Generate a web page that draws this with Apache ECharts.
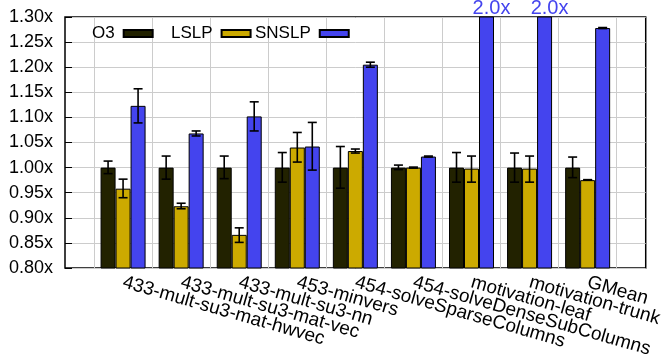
<!DOCTYPE html>
<html>
<head>
<meta charset="utf-8">
<script src="https://cdn.jsdelivr.net/npm/echarts@6/dist/echarts.min.js"></script>
<style>html,body{margin:0;padding:0;background:#fff;}#c{width:665px;height:362px;}</style>
</head>
<body>
<div id="c"></div>
<script>
var categories = ['433-mult-su3-mat-hwvec','433-mult-su3-mat-vec','433-mult-su3-nn','453-minvers','454-solveSparseColumns','454-solveDenseSubColumns','motivation-leaf','motivation-trunk','GMean'];
var seriesNames = ['O3','LSLP','SNSLP'];
var o3 =      [1.000, 1.000, 1.000, 1.000, 1.000, 1.000, 1.000, 1.000, 1.000];
var o3Lo =    [0.988, 0.977, 0.978, 0.971, 0.959, 0.996, 0.971, 0.971, 0.980];
var o3Hi =    [1.013, 1.023, 1.023, 1.030, 1.042, 1.005, 1.030, 1.029, 1.021];
var lslp =    [0.958, 0.923, 0.866, 1.040, 1.033, 1.000, 0.998, 0.998, 0.975];
var lslpLo =  [0.940, 0.918, 0.851, 1.011, 1.029, 0.999, 0.971, 0.971, 0.975];
var lslpHi =  [0.977, 0.929, 0.880, 1.070, 1.037, 1.001, 1.023, 1.023, 0.976];
var snslp =   [1.123, 1.068, 1.102, 1.042, 1.205, 1.022, 2.0, 2.0, 1.278];
var snslpLo = [1.089, 1.063, 1.073, 0.995, 1.200, 1.021, null, null, 1.277];
var snslpHi = [1.157, 1.073, 1.131, 1.090, 1.210, 1.023, null, null, 1.279];
var yTicks = {min: 0.80, max: 1.30, step: 0.05};

var FONT = "'Liberation Sans', Arial, Helvetica, sans-serif";
var colors = ['#222200', '#ccaa00', '#4444ee'];
var BAR_W = 15;

// 21 half-slots: category k (1..9) sits at slot 2k; split lines at odd slots
var slots = [];
for (var i = 0; i <= 20; i++) slots.push(i % 2 === 0 && i > 0 && i < 20 ? categories[i / 2 - 1] : '');
function toSlots(arr) {
  var out = [];
  for (var i = 0; i <= 20; i++) out.push(i % 2 === 0 && i > 0 && i < 20 ? arr[i / 2 - 1] : null);
  return out;
}
function errData(lo, hi) {
  var d = [];
  for (var k = 0; k < lo.length; k++) if (lo[k] != null) d.push([2 * (k + 1), lo[k], hi[k]]);
  return d;
}
function errSeries(lo, hi, idx) {
  var off = (idx - 1) * BAR_W;
  return {
    type: 'custom', xAxisIndex: 0, yAxisIndex: 0, z: 5, silent: true,
    data: errData(lo, hi),
    renderItem: function (params, api) {
      var a = api.coord([api.value(0), api.value(1)]);
      var b = api.coord([api.value(0), api.value(2)]);
      var x = a[0] + off, cw = 4.5;
      var st = {stroke: '#000', lineWidth: 1.6};
      return {type: 'group', children: [
        {type: 'line', shape: {x1: x, y1: a[1], x2: x, y2: b[1]}, style: st},
        {type: 'line', shape: {x1: x - cw, y1: a[1], x2: x + cw, y2: a[1]}, style: st},
        {type: 'line', shape: {x1: x - cw, y1: b[1], x2: x + cw, y2: b[1]}, style: st}
      ]};
    }
  };
}
var overData = [];
for (var k = 0; k < snslp.length; k++) if (snslp[k] > yTicks.max) overData.push([2 * (k + 1), snslp[k]]);

var barData = [o3, lslp, snslp];
var series = [];
for (var s = 0; s < 3; s++) {
  series.push({
    name: seriesNames[s], type: 'bar', barWidth: BAR_W, barGap: '0%',
    data: toSlots(barData[s]),
    itemStyle: {color: colors[s], borderColor: '#000', borderWidth: 1},
    emphasis: {disabled: true}
  });
}
series.push(errSeries(o3Lo, o3Hi, 0));
series.push(errSeries(lslpLo, lslpHi, 1));
series.push(errSeries(snslpLo, snslpHi, 2));
series.push({
  type: 'custom', clip: false, z: 6, silent: true, data: overData,
  renderItem: function (params, api) {
    var p = api.coord([api.value(0), yTicks.max]);
    return {type: 'text', x: p[0] + BAR_W + 5, y: p[1] + 1,
      style: {text: api.value(1).toFixed(1) + 'x', fill: '#4444ee', font: '20px ' + FONT,
        align: 'center', verticalAlign: 'bottom'}};
  }
});

function legendAt(name, left) {
  return {
    data: [{name: name, icon: 'rect'}], left: left, top: 25, padding: 0, orient: 'horizontal', align: 'right',
    itemWidth: 29, itemHeight: 7, selectedMode: false,
    textStyle: {fontFamily: FONT, fontSize: 17, color: '#000', padding: [0, 4, 0, 0]}
  };
}

var chart = echarts.init(document.getElementById('c'), null, {renderer: 'canvas'});
chart.setOption({
  animation: false,
  backgroundColor: '#fff',
  grid: {left: 65, right: 15, top: 17, bottom: 94, show: true, borderColor: '#000', borderWidth: 1.5, backgroundColor: 'transparent'},
  legend: [legendAt('O3', 92), legendAt('LSLP', 171), legendAt('SNSLP', 255)],
  xAxis: {
    type: 'category', data: slots, boundaryGap: false,
    axisLine: {show: false}, axisTick: {show: false},
    splitLine: {show: true, interval: function (i) { return i % 2 === 1; }, lineStyle: {color: '#cccccc', width: 1}},
    axisLabel: {interval: 0, rotate: -16, margin: 14, fontFamily: FONT, fontSize: 19, color: '#000'}
  },
  yAxis: {
    type: 'value', min: yTicks.min, max: yTicks.max, interval: yTicks.step,
    axisLine: {show: false},
    axisTick: {show: true, inside: true, length: 7, lineStyle: {color: '#000', width: 1}},
    splitLine: {show: true, lineStyle: {color: '#cccccc', width: 1}},
    axisLabel: {margin: 12, fontFamily: FONT, fontSize: 18, color: '#000',
      formatter: function (v) { return v.toFixed(2) + 'x'; }}
  },
  series: series
});
</script>
</body>
</html>
